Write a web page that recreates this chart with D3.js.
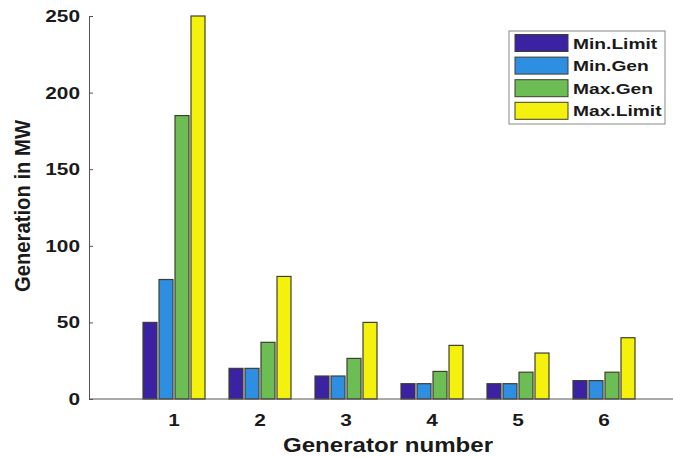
<html>
<head>
    <style>
        body { margin: 0; background: #fff; }
        text { font-family: "Liberation Sans", Arial, sans-serif; font-weight: bold; fill: #1a1a1a; }
    </style>
</head>
<body>
    <svg id="container" width="673" height="457"></svg>
</body>
<script src="https://cdn.jsdelivr.net/npm/d3@7"></script>
<script>
    // values
    let generators = [1, 2, 3, 4, 5, 6]
    let series = ["Min.Limit", "Min.Gen", "Max.Gen", "Max.Limit"]
    let minLimit = [50, 20, 15, 10, 10, 12]
    let minGen = [78, 20, 15, 10, 10, 12]
    let maxGen = [185, 37, 26.5, 18, 17.5, 17.5]
    let maxLimit = [250, 80, 50, 35, 30, 40]
    let yTicks = [0, 50, 100, 150, 200, 250]
    let colors = ["#3b22a3", "#2e8ee2", "#6dbd55", "#f4f20c"]

    let values = [minLimit, minGen, maxGen, maxLimit]
    let svg = d3.select("#container")

    let xScale = d3.scaleLinear().domain([0, 7]).range([88, 690])
    let yScale = d3.scaleLinear().domain([0, 250]).range([399, 16])
    let xSub = d3.scaleBand().domain(series).range([-32, 32])
        .paddingInner(0.125).paddingOuter(0.0625)
    let color = d3.scaleOrdinal().domain(series).range(colors)

    // stretch text horizontally, the original picture is squeezed wider
    function stretch(sel, k) {
        sel.each(function() {
            let w = this.getComputedTextLength()
            d3.select(this).attr("textLength", w * k).attr("lengthAdjust", "spacingAndGlyphs")
        })
    }

    // bars
    let rows = []
    series.forEach((s, i) => {
        generators.forEach((g, j) => rows.push({ s: s, g: g, v: values[i][j] }))
    })
    svg.append("g").selectAll("rect")
        .data(rows)
        .enter()
        .append("rect")
        .attr("x", d => xScale(d.g) + xSub(d.s))
        .attr("width", xSub.bandwidth())
        .attr("y", d => yScale(d.v))
        .attr("height", d => yScale(0) - yScale(d.v))
        .style("fill", d => color(d.s))
        .style("stroke", "#3f3f30")
        .style("stroke-width", 1.2)

    // y axis
    let yAxis = svg.append("g")
        .attr("transform", `translate(${xScale(0) + 1},0)`)
        .call(d3.axisRight(yScale).tickValues(yTicks).tickSize(4).tickFormat(""))
    yAxis.select(".domain").attr("stroke", "#555")
    yAxis.selectAll(".tick line").attr("stroke", "#555")

    let yLabels = svg.append("g").selectAll("text")
        .data(yTicks)
        .enter()
        .append("text")
        .attr("x", 80)
        .attr("y", d => yScale(d) + 6)
        .attr("text-anchor", "end")
        .style("font-size", "16px")
        .text(d => d)
    stretch(yLabels, 1.3)

    // x axis
    svg.append("line")
        .attr("x1", xScale(0) + 1).attr("x2", 673)
        .attr("y1", yScale(0)).attr("y2", yScale(0))
        .attr("stroke", "#555")

    let xLabels = svg.append("g").selectAll("text")
        .data(generators)
        .enter()
        .append("text")
        .attr("x", d => xScale(d))
        .attr("y", 426)
        .attr("text-anchor", "middle")
        .style("font-size", "16px")
        .text(d => d)
    stretch(xLabels, 1.3)

    let xTitle = svg.append("text")
        .attr("x", 388)
        .attr("y", 452)
        .attr("text-anchor", "middle")
        .style("font-size", "20px")
        .text("Generator number")
    xTitle.attr("textLength", 210).attr("lengthAdjust", "spacingAndGlyphs")

    // rotated title, glyphs widened on screen like the rest
    svg.append("text")
        .attr("transform", "translate(30,206) rotate(-90) scale(1,1.25)")
        .attr("text-anchor", "middle")
        .style("font-size", "18px")
        .attr("textLength", 172)
        .attr("lengthAdjust", "spacingAndGlyphs")
        .text("Generation in MW")

    // legend
    let legend = svg.append("g")
    legend.append("rect")
        .attr("x", 509).attr("y", 31)
        .attr("width", 156).attr("height", 93)
        .style("fill", "#fff")
        .style("stroke", "#888")
    let items = legend.selectAll("g.item")
        .data(series)
        .enter()
        .append("g")
        .attr("class", "item")
        .attr("transform", (d, i) => `translate(0, ${43 + i * 22.6})`)
    items.append("rect")
        .attr("x", 515).attr("y", -8.5)
        .attr("width", 53).attr("height", 17)
        .style("fill", d => color(d))
        .style("stroke", "#3f3f30")
    let legendText = items.append("text")
        .attr("x", 573).attr("y", 5.5)
        .style("font-size", "15px")
        .text(d => d)
    stretch(legendText, 1.28)
</script>
</html>
